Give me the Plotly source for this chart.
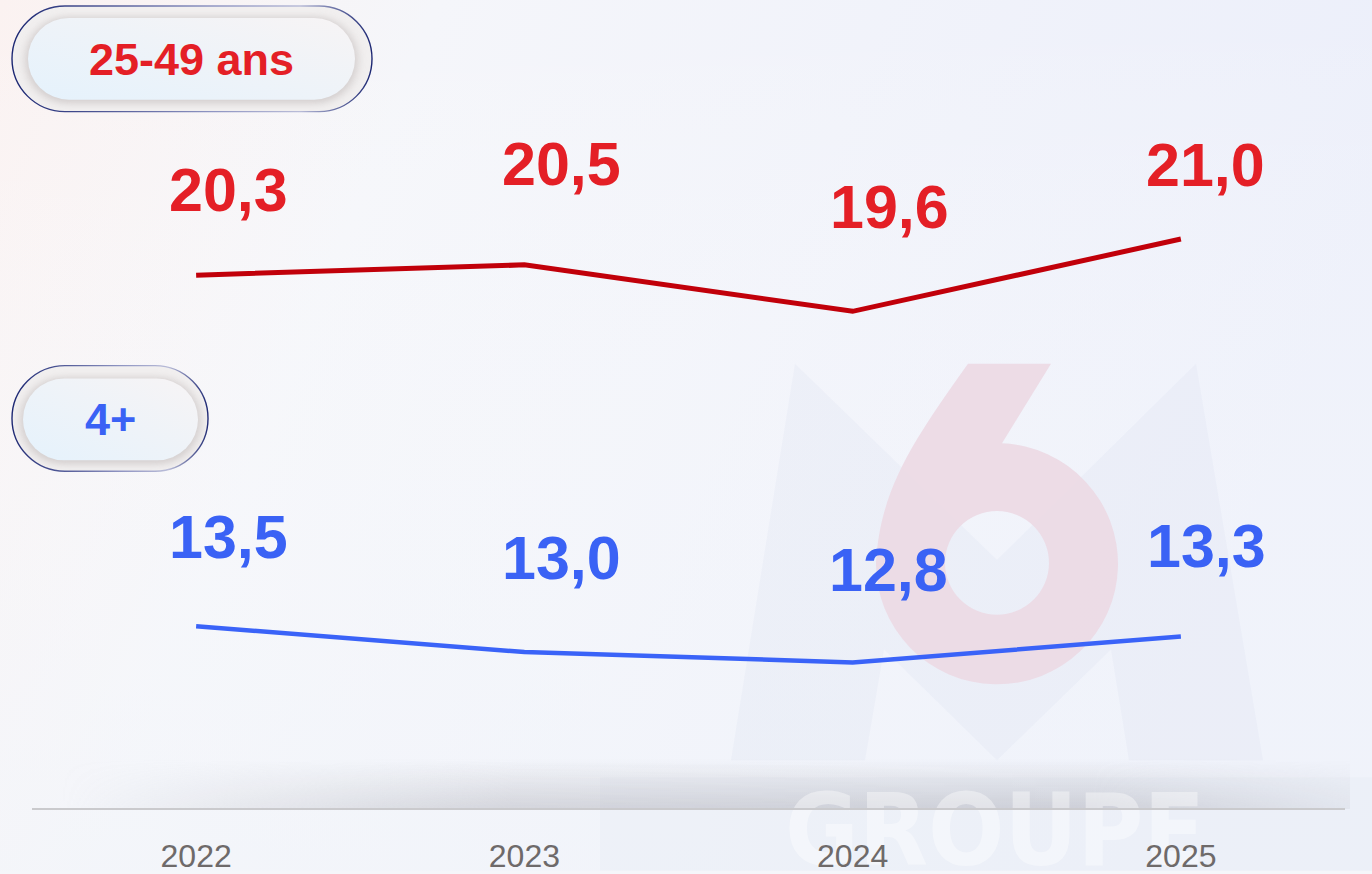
import base64
import plotly.graph_objects as go

# ---- data ----
years = ["2022", "2023", "2024", "2025"]
val_2549 = [20.3, 20.5, 19.6, 21.0]
val_4plus = [13.5, 13.0, 12.8, 13.3]
lab_2549 = ["20,3", "20,5", "19,6", "21,0"]
lab_4plus = ["13,5", "13,0", "12,8", "13,3"]
series_names = ["25-49 ans", "4+"]

# ---- style ----
W, H = 1372, 874
ML, MR, MT, MB = 32, 27, 0, 63
PW, PH = W - ML - MR, H - MT - MB
Y_RANGE = [9.98, 25.63]
RED_TXT, RED_LINE = "#E41F26", "#C1000A"
BLUE_TXT, BLUE_LINE = "#3A62F5", "#3A63F8"
# label offsets in px (xshift, yshift)
off_2549 = [(32, 85), (37, 101), (37, 104), (25, 74)]
off_4plus = [(32, 89), (37, 94), (36, 92), (26, 91)]

def pill(x, y, w, h, ix, iy, iw, ih, gid):
    r = h / 2
    ir = ih / 2
    return f'''
  <rect x="{x}" y="{y}" width="{w}" height="{h}" rx="{r}" ry="{r}" fill="#F1EFEF" stroke="url(#ring{gid})" stroke-width="1.4"/>
  <rect x="{ix-3}" y="{iy-1}" width="{iw+6}" height="{ih+5}" rx="{ir+2}" ry="{ir+2}" fill="#CFC9C9" opacity="0.85" filter="url(#blur)"/>
  <rect x="{ix}" y="{iy}" width="{iw}" height="{ih}" rx="{ir}" ry="{ir}" fill="url(#pillFill)"/>
'''

def ring_grad(gid):
    return f'''<linearGradient id="ring{gid}" x1="0" y1="0" x2="1" y2="0">
      <stop offset="0" stop-color="#1B2672"/>
      <stop offset="0.55" stop-color="#8E94C2"/>
      <stop offset="0.8" stop-color="#B9BCD8"/>
      <stop offset="1" stop-color="#1B2672"/>
    </linearGradient>'''

svg = f'''<svg xmlns="http://www.w3.org/2000/svg" width="{W}" height="{H}" viewBox="0 0 {W} {H}">
  <defs>
    <linearGradient id="bg" x1="0" y1="0" x2="1" y2="0.25">
      <stop offset="0" stop-color="#FBF2F1"/>
      <stop offset="0.3" stop-color="#F5F6FA"/>
      <stop offset="1" stop-color="#ECEFFA"/>
    </linearGradient>
    <linearGradient id="bgv" x1="0" y1="0" x2="0" y2="1">
      <stop offset="0" stop-color="#FFFFFF" stop-opacity="0"/>
      <stop offset="1" stop-color="#F2F5FA" stop-opacity="0.6"/>
    </linearGradient>
    <linearGradient id="shv" x1="0" y1="0" x2="0" y2="1">
      <stop offset="0" stop-color="#A8A8B0" stop-opacity="0"/>
      <stop offset="1" stop-color="#A8A8B0" stop-opacity="0.45"/>
    </linearGradient>
    <linearGradient id="shh" x1="0" y1="0" x2="1" y2="0">
      <stop offset="0" stop-color="#FFFFFF" stop-opacity="0"/>
      <stop offset="0.35" stop-color="#FFFFFF" stop-opacity="0.9"/>
      <stop offset="0.8" stop-color="#FFFFFF" stop-opacity="1"/>
      <stop offset="1" stop-color="#FFFFFF" stop-opacity="0.3"/>
    </linearGradient>
    <mask id="fade"><rect x="60" y="762" width="1290" height="52" fill="url(#shh)"/></mask>
    <linearGradient id="pillFill" x1="0" y1="1" x2="1" y2="0">
      <stop offset="0" stop-color="#E5F2FC"/>
      <stop offset="1" stop-color="#F7F4F5"/>
    </linearGradient>
    {ring_grad(1)}
    {ring_grad(2)}
    <filter id="blur" x="-20%" y="-40%" width="140%" height="180%"><feGaussianBlur stdDeviation="4"/></filter>
  </defs>
  <rect x="0" y="0" width="{W}" height="{H}" fill="url(#bg)"/>
  <rect x="0" y="0" width="{W}" height="{H}" fill="url(#bgv)"/>
  <rect x="600" y="780" width="772" height="94" fill="#DDE1EC" opacity="0.18"/>
  <path d="M795,365 L997,562 L1196,365 L1263,763 L1129,763 L1111,652 L997,763 L884,652 L865,763 L731,763 Z"
        fill="#C9CFE6" opacity="0.13"/>
  <path fill-rule="evenodd" fill="#ECDAE5" opacity="0.95"
        d="M968,365 L1051,365 L1002,445 A121,121 0 1 1 876,565 C 880,490 915,440 968,365 Z
           M1049,565 A52,52 0 1 0 945,565 A52,52 0 1 0 1049,565 Z"/>
  <rect x="60" y="762" width="1290" height="50" fill="url(#shv)" mask="url(#fade)"/>
  {pill(12, 6, 360, 106, 28, 18, 327, 82, 1)}
  {pill(12, 367, 196, 106, 23, 380, 175, 82, 2)}
</svg>'''

src = "data:image/svg+xml;base64," + base64.b64encode(svg.encode()).decode()

fig = go.Figure()
fig.add_trace(go.Scatter(x=years, y=val_2549, mode="lines", name=series_names[0],
                         line=dict(color=RED_LINE, width=5), hoverinfo="skip"))
fig.add_trace(go.Scatter(x=years, y=val_4plus, mode="lines", name=series_names[1],
                         line=dict(color=BLUE_LINE, width=4.5), hoverinfo="skip"))

LABEL_FONT = "Liberation Sans, Arial, Helvetica, sans-serif"
for vs, ls, offs, col in [(val_2549, lab_2549, off_2549, RED_TXT),
                          (val_4plus, lab_4plus, off_4plus, BLUE_TXT)]:
    for i, (v, l, (dx, dy)) in enumerate(zip(vs, ls, offs)):
        fig.add_annotation(x=i, y=v, text=f"<b>{l}</b>", showarrow=False,
                           xshift=dx, yshift=dy, xanchor="center", yanchor="middle",
                           font=dict(family=LABEL_FONT, size=61, color=col))

def px_to_paper(px, py):
    return (px - ML) / PW, 1 - (py - MT) / PH

bx, by = px_to_paper(191, 60)
fig.add_annotation(xref="paper", yref="paper", x=bx, y=by, text=f"<b>{series_names[0]}</b>",
                   showarrow=False, xanchor="center", yanchor="middle",
                   font=dict(family=LABEL_FONT, size=45, color=RED_TXT))
bx, by = px_to_paper(110, 421)
fig.add_annotation(xref="paper", yref="paper", x=bx, y=by, text=f"<b>{series_names[1]}</b>",
                   showarrow=False, xanchor="center", yanchor="middle",
                   font=dict(family=LABEL_FONT, size=45, color=BLUE_TXT))

fig.add_layout_image(dict(source=src, xref="paper", yref="paper",
                          x=-ML / PW, y=1 + MT / PH, sizex=W / PW, sizey=H / PH,
                          xanchor="left", yanchor="top", sizing="stretch", layer="below"))

# watermark word (below axes)
gx0, gy0 = px_to_paper(760, 874)
gx1, gy1 = px_to_paper(1230, 765)
fig.add_shape(type="rect", xref="paper", yref="paper", x0=gx0, y0=gy0, x1=gx1, y1=gy1,
              line=dict(width=0), fillcolor="rgba(0,0,0,0)", layer="below",
              label=dict(text="<b>GROUPE</b>", textposition="top center",
                         font=dict(family="Liberation Sans Narrow, DejaVu Sans Condensed, Arial Narrow, sans-serif",
                                   size=100, color="rgba(255,255,255,0.4)")))

fig.update_layout(
    width=W, height=H,
    margin=dict(l=ML, r=MR, t=MT, b=MB),
    paper_bgcolor="#F5F6FA", plot_bgcolor="rgba(0,0,0,0)",
    showlegend=False,
    xaxis=dict(type="category", range=[-0.5, 3.5], showgrid=False, zeroline=False,
               showline=True, linecolor="#CACACD", linewidth=2, ticks="",
               tickfont=dict(family="Liberation Sans, Arial, sans-serif", size=32, color="#6E6A6A"),
               ticklabelstandoff=19, fixedrange=True),
    yaxis=dict(range=Y_RANGE, visible=False, showgrid=False, zeroline=False, fixedrange=True),
)

fig.write_html("out.html", config={"displayModeBar": False},
               post_script="document.body.style.margin='0';document.body.style.overflow='hidden';")
